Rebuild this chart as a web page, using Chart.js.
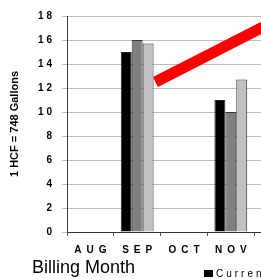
<!DOCTYPE html>
<html>
<head>
<meta charset="utf-8">
<script src="https://cdn.jsdelivr.net/npm/chart.js@4.4.0/dist/chart.umd.min.js"></script>
<style>
  html, body { margin: 0; padding: 0; background: #fff; overflow: hidden; }
  #wrap { position: absolute; left: 0; top: 0; width: 320px; height: 279px; }
  #xtitle { position: absolute; left: 32px; top: 258px; font: 18px "Liberation Sans", Arial, sans-serif; line-height: 18px; color: #000; white-space: nowrap; }
  #legend { position: absolute; left: 204px; top: 269px; font: 10px "Liberation Sans", Arial, sans-serif; line-height: 10px; letter-spacing: 3px; white-space: nowrap; color: #000; }
  #legend span.box { display: inline-block; width: 9px; height: 7px; margin-right: 3px; vertical-align: 0; }
</style>
</head>
<body>
<div id="wrap"><canvas id="barChart"></canvas></div>
<div id="xtitle">Billing Month</div>
<div id="legend"></div>
<script>
// billing months (last one is cut off by the frame)
var months = ["AUG", "SEP", "OCT", "NOV", "DEC"];
var yTicks = [0, 2, 4, 6, 8, 10, 12, 14, 16, 18];

var seriesNames = ["Current Year", "Last Year", "Two Years Ago"];
var currentYear = [null, 15, null, 11, null];
var lastYear = [null, 16, null, 10, null];
var twoYearsAgo = [null, 15.7, null, 12.7, null];
var seriesColors = ["#000000", "#808080", "#c0c0c0"];

// red trend arrow; x in month-index units (SEP = 1), y in HCF
var trendX = [1.39, 4.3];
var trendY = [12.5, 18.3];

var font = "'Liberation Sans', Arial, sans-serif";

document.getElementById("legend").innerHTML =
  '<span class="box" style="background:' + seriesColors[0] + '"></span>' +
  seriesNames[0];

var ctx = document.getElementById("barChart").getContext("2d");

var barChart = new Chart(ctx, {
  type: "bar",
  data: {
    labels: months,
    datasets: [
      {
        label: seriesNames[0],
        data: currentYear,
        backgroundColor: seriesColors[0],
        borderColor: "#222",
        borderWidth: 1,
        order: 2,
      },
      {
        label: seriesNames[1],
        data: lastYear,
        backgroundColor: seriesColors[1],
        borderColor: "#333",
        borderWidth: 1,
        order: 2,
      },
      {
        label: seriesNames[2],
        data: twoYearsAgo,
        backgroundColor: seriesColors[2],
        borderColor: "#333",
        borderWidth: 1,
        order: 2,
      },
      {
        type: "line",
        label: "trend",
        parsing: false,
        data: trendX.map((x, i) => ({ x: x, y: trendY[i] })),
        borderColor: "#ff0000",
        borderWidth: 11,
        borderCapStyle: "butt",
        pointRadius: 0,
        order: 1,
      },
    ],
  },
  options: {
    responsive: true,
    maintainAspectRatio: false,
    animation: false,
    layout: {
      padding: { top: 12, right: 19, left: 0, bottom: 0 },
    },
    datasets: {
      bar: {
        categoryPercentage: 0.7,
        barPercentage: 1,
      },
    },
    plugins: {
      legend: { display: false },
      tooltip: { enabled: false },
    },
    scales: {
      x: {
        grid: {
          drawOnChartArea: false,
          drawTicks: true,
          tickLength: 4,
          color: "#555",
        },
        border: { color: "#333", width: 1 },
        ticks: {
          color: "#000",
          padding: 8,
          font: { family: font, size: 10, weight: "bold" },
          callback: function (value) {
            return months[value].split("").join("\u2002");
          },
        },
        afterFit: function (scale) {
          scale.height = 47;
        },
      },
      y: {
        min: 0,
        max: 18,
        afterBuildTicks: function (scale) {
          scale.ticks = yTicks.map((v) => ({ value: v }));
        },
        grid: {
          color: "#bdbdbd",
          tickLength: 5,
        },
        border: { color: "#444", width: 1 },
        ticks: {
          color: "#000",
          padding: 10,
          font: { family: font, size: 10, weight: "bold" },
          callback: function (value) {
            return String(value).split("").join(" ");
          },
        },
        title: {
          display: true,
          text: "1 HCF = 748 Gallons",
          color: "#000",
          padding: { top: 8, bottom: 0 },
          font: { family: font, size: 11, weight: "bold" },
        },
        afterFit: function (scale) {
          scale.width = 67;
        },
      },
    },
  },
});
</script>
</body>
</html>
